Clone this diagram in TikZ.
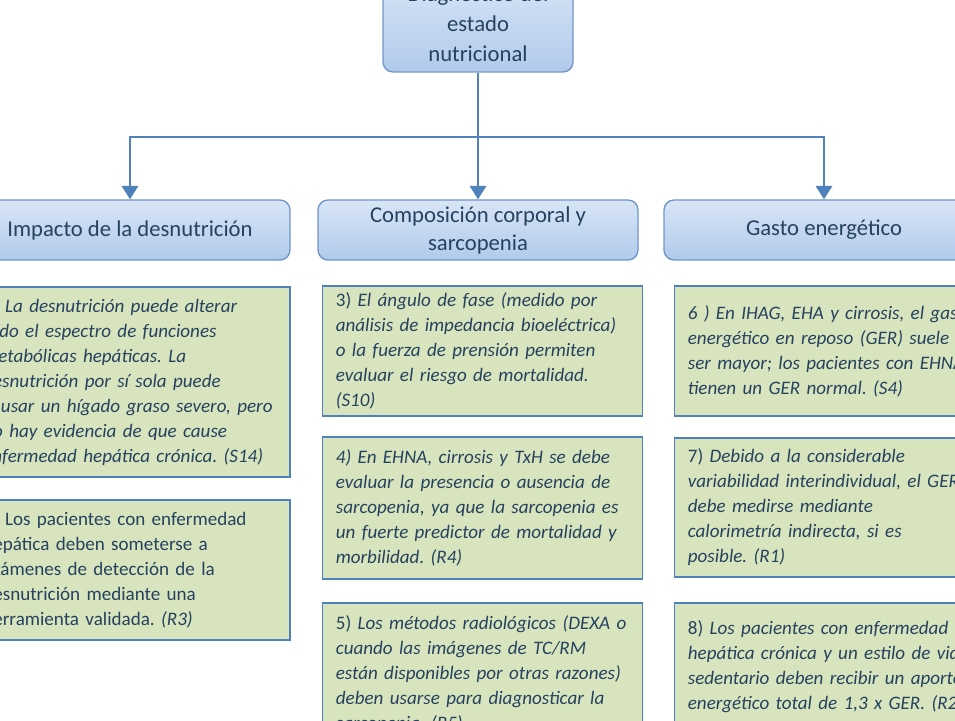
\documentclass[tikz,border=0pt]{standalone}
\usepackage{fontspec}
\setmainfont{Carlito}
\usetikzlibrary{arrows.meta}

\definecolor{txt}{HTML}{25425F}
\definecolor{headline}{HTML}{6F96C9}
\definecolor{headtop}{HTML}{D8E5F6}
\definecolor{headbot}{HTML}{B1CAEB}
\definecolor{notefill}{HTML}{D7E4BD}
\definecolor{noteline}{HTML}{4F81BD}
\definecolor{linkcol}{HTML}{4F81BD}

\tikzset{
  head/.style={draw=headline, line width=1pt, rounded corners=7.5pt,
    top color=headtop, bottom color=headbot, text=txt, align=center,
    minimum width=240pt, minimum height=45pt,
    font=\fontsize{17}{21}\selectfont},
  note/.style={draw=noteline, line width=1.4pt, fill=notefill, text=txt,
    align=left, text width=230pt, inner xsep=5pt,
    execute at begin node={\leftskip=5pt\rightskip=-15pt plus 1fil
      \frenchspacing\hyphenpenalty=10000},
    font=\fontsize{14.3}{18.75}\selectfont},
  link/.style={draw=linkcol, line width=2.2pt,
    -{Triangle[width=12pt,length=10pt]}},
}

\begin{document}
\begin{tikzpicture}[x=0.75pt,y=-0.75pt]
  \useasboundingbox (0,0) rectangle (955,720);
  \clip (0,0) rectangle (955,720);

  % root
  \node[head, minimum width=142.5pt, minimum height=72pt,
        font=\fontsize{17}{22.5}\selectfont] (diag) at (478,24)
        {Diagnóstico del\\estado\\nutricional};
  \coordinate (hub) at (478,137);

  % second level
  \node[head] (impacto) at (130,230) {Impacto de la desnutrición};
  \node[head] (compo) at (478,230) {Composición corporal y\\sarcopenia};
  \node[head] (gasto) at (824,230) {Gasto energético};

  % left column
  \node[note, minimum height=142.5pt] (n1) at (130,382)
    {{\itshape 1) La desnutrición puede alterar\\
      todo el espectro de funciones\\
      metabólicas hepáticas. La\\
      desnutrición por sí sola puede\\
      causar un hígado graso severo, pero\\
      no hay evidencia de que cause\\
      enfermedad hepática crónica. (S14)}};
  \node[note, minimum height=105pt] (n2) at (130,570)
    {2) Los pacientes con enfermedad\\
      hepática deben someterse a\\
      exámenes de detección de la\\
      desnutrición mediante una\\
      herramienta validada. {\itshape (R3)}};

  % middle column
  \node[note, minimum height=97.5pt] (n3) at (482.5,351)
    {3) {\itshape El ángulo de fase (medido por\\
      análisis de impedancia bioeléctrica)\\
      o la fuerza de prensión permiten\\
      evaluar el riesgo de mortalidad.\\
      (S10)}};
  \node[note, minimum height=106.5pt] (n4) at (482.5,508)
    {{\itshape 4) En EHNA, cirrosis y TxH se debe\\
      evaluar la presencia o ausencia de\\
      sarcopenia, ya que la sarcopenia es\\
      un fuerte predictor de mortalidad y\\
      morbilidad. (R4)}};
  \node[note, minimum height=106.5pt] (n5) at (482.5,674)
    {5) {\itshape Los métodos radiológicos (DEXA o\\
      cuando las imágenes de TC/RM\\
      están disponibles por otras razones)\\
      deben usarse para diagnosticar la\\
      sarcopenia. (R5)}};

  % right column
  \node[note, minimum height=97.5pt] (n6) at (834.5,351)
    {{\itshape 6 ) En IHAG, EHA y cirrosis, el gasto\\
      energético en reposo (GER) suele\\
      ser mayor; los pacientes con EHNA\\
      tienen un GER normal. (S4)}};
  \node[note, minimum height=104pt] (n7) at (834.5,507.5)
    {7) {\itshape Debido a la considerable\\
      variabilidad interindividual, el GER\\
      debe medirse mediante\\
      calorimetría indirecta, si es\\
      posible. (R1)}};
  \node[note, minimum height=95pt] (n8) at (834.5,666.5)
    {8) {\itshape Los pacientes con enfermedad\\
      hepática crónica y un estilo de vida\\
      sedentario deben recibir un aporte\\
      energético total de 1,3 x GER. (R2)}};

  % connectors
  \draw[draw=linkcol, line width=2.2pt] (diag) -- (hub);
  \draw[link] (hub) -| (impacto);
  \draw[link] (hub) -- (compo);
  \draw[link] (hub) -| (gasto);
\end{tikzpicture}
\end{document}
